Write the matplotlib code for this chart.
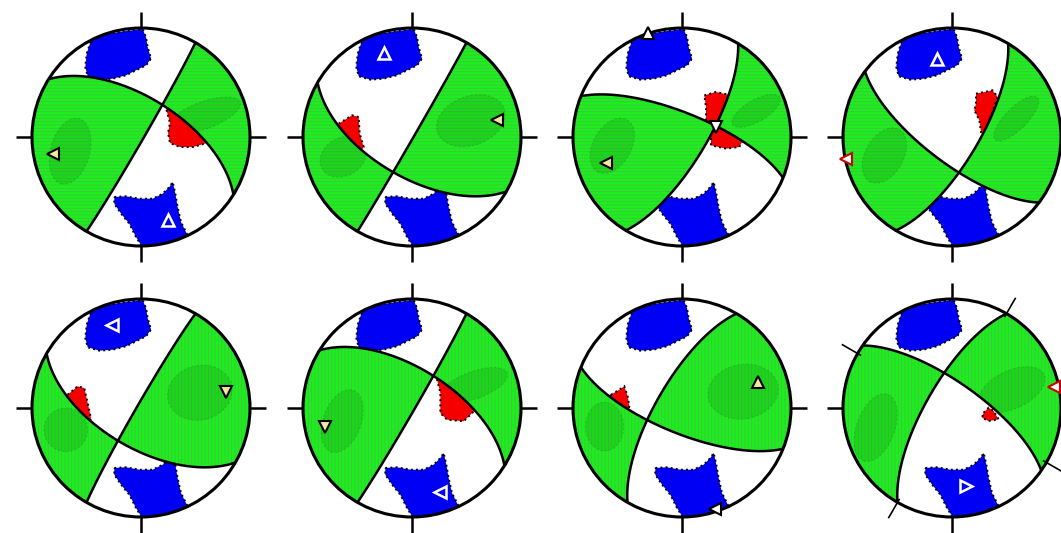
import numpy as np
import matplotlib
matplotlib.use("Agg")
import matplotlib.pyplot as plt
from matplotlib.patches import Circle, Polygon, Ellipse

# ---------------- data ----------------
# nodal plane A / B (strike, dip in degrees) for the 8 mechanisms
strike_a = [302, 120, 292, 127, 120, 302, 112, 305]
dip_a = [61, 60, 72, 71, 60, 61, 71, 71]
strike_b = [30, 30, 31, 31, 210, 30, 210, 210]
dip_b = [88, 89, 72, 71, 87, 88, 71, 71]

# P-axis confidence regions (blue), shared shape, unit-circle coords
blue_top = [(-0.443, 0.902), (-0.291, 0.948), (-0.138, 0.972), (0.015, 0.991),
            (0.046, 0.917), (0.061, 0.826), (0.092, 0.719), (0.046, 0.657),
            (-0.046, 0.612), (-0.138, 0.566), (-0.260, 0.535), (-0.382, 0.526),
            (-0.489, 0.557), (-0.511, 0.642), (-0.498, 0.765), (-0.468, 0.856)]
blue_bottom = [(-0.245, -0.550), (-0.138, -0.544), (-0.015, -0.566), (0.107, -0.566),
               (0.199, -0.520), (0.260, -0.459), (0.291, -0.413), (0.315, -0.520),
               (0.336, -0.642), (0.367, -0.780), (0.428, -0.902), (0.229, -0.979),
               (0.015, -1.015), (-0.046, -0.917), (-0.107, -0.795), (-0.183, -0.703),
               (-0.245, -0.612)]

# T-axis confidence regions (red), per mechanism
red_blobs = [
    [(0.22, 0.30), (0.62, 0.06), (0.606, -0.055), (0.477, -0.092), (0.358, -0.092),
     (0.266, -0.055), (0.248, 0.037), (0.266, 0.128)],
    [(-0.673, 0.122), (-0.550, 0.199), (-0.489, 0.183), (-0.480, 0.031),
     (-0.443, -0.092), (-0.48, -0.15), (-0.70, 0.05)],
    [(0.205, 0.382), (0.312, 0.413), (0.428, 0.388), (0.404, 0.183), (0.373, 0.092),
     (0.557, -0.031), (0.526, -0.092), (0.404, -0.107), (0.266, -0.076),
     (0.266, 0.046), (0.220, 0.153), (0.220, 0.275)],
    [(0.220, 0.398), (0.373, 0.428), (0.419, 0.367), (0.343, 0.153), (0.297, 0.031),
     (0.266, 0.046), (0.251, 0.153), (0.205, 0.245), (0.220, 0.306)],
    [(-0.673, 0.122), (-0.581, 0.199), (-0.520, 0.183), (-0.489, 0.046),
     (-0.459, -0.092), (-0.48, -0.15), (-0.70, 0.05)],
    [(0.22, 0.30), (0.62, 0.02), (0.474, -0.122), (0.321, -0.107),
     (0.260, -0.046), (0.260, 0.138)],
    [(-0.651, 0.122), (-0.575, 0.168), (-0.529, 0.199), (-0.498, 0.107),
     (-0.483, 0.015), (-0.50, -0.05), (-0.68, 0.08)],
    [(0.29, -0.043), (0.336, 0.003), (0.382, -0.028), (0.428, -0.104),
     (0.336, -0.119), (0.275, -0.089)],
]

# darker T-axis uncertainty patches inside the green quadrants: (x, y, w, h, angle)
dark_patches = [
    [(-0.65, -0.13, 0.36, 0.62, -15), (0.58, 0.20, 0.70, 0.25, 20)],
    [(-0.63, -0.18, 0.45, 0.35, 30), (0.54, 0.15, 0.65, 0.45, 20)],
    [(-0.64, -0.08, 0.35, 0.55, -30), (0.68, 0.24, 0.50, 0.20, 30)],
    [(-0.62, -0.17, 0.35, 0.55, -30), (0.59, 0.17, 0.55, 0.20, 45)],
    [(-0.69, -0.20, 0.40, 0.40, 0), (0.54, 0.14, 0.60, 0.50, 15)],
    [(-0.64, -0.12, 0.35, 0.60, -20), (0.57, 0.21, 0.65, 0.25, 20)],
    [(-0.71, -0.17, 0.35, 0.45, 0), (0.56, 0.15, 0.65, 0.50, 10)],
    [(-0.70, -0.18, 0.35, 0.65, -20), (0.55, 0.17, 0.65, 0.35, 25)],
]

# axis markers: (x, y, marker, style)
tri_marks = [
    [(-0.81, -0.16, "<", "yellow"), (0.25, -0.76, "^", "white")],
    [(-0.26, 0.77, "^", "white"), (0.78, 0.155, "<", "yellow")],
    [(-0.31, 0.95, "^", "wb"), (-0.70, -0.24, "<", "yellow"), (0.31, 0.09, "v", "wb")],
    [(-0.14, 0.72, "^", "white"), (-0.97, -0.20, "<", "red")],
    [(-0.27, 0.76, "<", "white"), (0.78, 0.145, "v", "yellow")],
    [(-0.80, -0.17, "v", "yellow"), (0.26, -0.77, "<", "white")],
    [(0.70, 0.24, "^", "yellow"), (0.30, -0.93, "<", "wb")],
    [(0.13, -0.72, ">", "white"), (0.94, 0.19, "<", "red")],
]

hatch_styles = ["-----"] * 4 + ["|||||"] * 4
rotated_ticks = [None] * 7 + [[30, 120, 210, 300]]

# ---------------- layout ----------------
W, H = 1061, 533
col_x = [141, 412, 682, 952]
row_y = [H - 137, H - 408]
R = 109

plt.rcParams["hatch.color"] = "#45c045"
plt.rcParams["hatch.linewidth"] = 0.6

fig = plt.figure(figsize=(W / 100, H / 100), dpi=100)
ax = fig.add_axes([0, 0, 1, 1])
ax.set_xlim(0, W)
ax.set_ylim(0, H)
ax.set_aspect("equal")
ax.axis("off")


def normal(s, d):
    s, d = np.radians(s), np.radians(d)
    return np.array([-np.sin(d) * np.sin(s), np.sin(d) * np.cos(s), -np.cos(d)])


def plane_curve(s, d):
    s, d = np.radians(s), np.radians(d)
    t = np.linspace(0, np.pi, 300)
    sv = np.array([np.cos(s), np.sin(s), 0.0])
    dv = np.array([-np.cos(d) * np.sin(s), np.cos(d) * np.cos(s), np.sin(d)])
    v = np.outer(np.cos(t), sv) + np.outer(np.sin(t), dv)
    inc = np.arccos(np.clip(v[:, 2], -1, 1))
    az = np.arctan2(v[:, 1], v[:, 0])
    r = np.sqrt(2) * np.sin(inc / 2)
    return r * np.sin(az), r * np.cos(az)


def dirvec(u, w):
    r = np.minimum(np.hypot(u, w), np.sqrt(2) - 1e-6)
    inc = 2 * np.arcsin(r / np.sqrt(2))
    az = np.arctan2(u, w)
    return np.stack([np.sin(inc) * np.cos(az), np.sin(inc) * np.sin(az), np.cos(inc)], -1)


g = np.linspace(-1.1, 1.1, 500)
U, Wg = np.meshgrid(g, g)
V = dirvec(U, Wg)
Vref = dirvec(np.array(-0.8), np.array(0.0))

style_kw = {
    "yellow": dict(mfc="#f4e7a6", mec="black", mew=1.5),
    "white": dict(mfc="none", mec="white", mew=1.8),
    "wb": dict(mfc="white", mec="black", mew=1.5),
    "red": dict(mfc="white", mec="#cc0000", mew=1.5),
}

for k in range(8):
    cx = col_x[k % 4]
    cy = row_y[k // 4]
    clip = Circle((cx, cy), R, transform=ax.transData)
    ax.add_patch(Circle((cx, cy), R, fc="white", ec="none", zorder=1))

    def to_xy(pts):
        return [(cx + R * x, cy + R * y) for x, y in pts]

    for shape, col in ((blue_top, "#0000f5"), (blue_bottom, "#0000f5"), (red_blobs[k], "#f50000")):
        p = Polygon(to_xy(shape), closed=True, fc=col, ec="black", lw=1.4, ls=":", zorder=2)
        ax.add_patch(p)
        p.set_clip_path(clip)

    n1 = normal(strike_a[k], dip_a[k])
    n2 = normal(strike_b[k], dip_b[k])
    f = (V @ n1) * (V @ n2)
    sgn = np.sign((Vref @ n1) * (Vref @ n2))
    f = f * sgn
    cs = ax.contourf(cx + R * U, cy + R * Wg, f, levels=[0, f.max() + 1],
                     colors=["#1cf01c"], hatches=[hatch_styles[k]], zorder=3)
    cs.set_clip_path(clip)
    gpath = cs.get_paths()[0]

    for (ex, ey, ew, eh, ea) in dark_patches[k]:
        e = Ellipse((cx + R * ex, cy + R * ey), R * ew, R * eh, angle=ea,
                    fc="#0b7a0b", alpha=0.2, ec="#0b5a0b", ls=(0, (2, 2)), lw=0.8, zorder=4)
        ax.add_patch(e)
        e.set_clip_path(gpath, ax.transData)

    for s, d in ((strike_a[k], dip_a[k]), (strike_b[k], dip_b[k])):
        x, y = plane_curve(s, d)
        ax.plot(cx + R * x, cy + R * y, color="black", lw=1.8, zorder=5, solid_capstyle="butt")

    ax.add_patch(Circle((cx, cy), R, fill=False, ec="black", lw=2.2, zorder=6))

    for az in (0, 90, 180, 270):
        a = np.radians(az)
        ax.plot([cx + R * np.sin(a), cx + 1.15 * R * np.sin(a)],
                [cy + R * np.cos(a), cy + 1.15 * R * np.cos(a)],
                color="black", lw=1.8, zorder=6, solid_capstyle="butt")
    if rotated_ticks[k]:
        for az in rotated_ticks[k]:
            a = np.radians(az)
            ax.plot([cx + 0.97 * R * np.sin(a), cx + 1.16 * R * np.sin(a)],
                    [cy + 0.97 * R * np.cos(a), cy + 1.16 * R * np.cos(a)],
                    color="black", lw=1.2, zorder=6)

    for (tx, ty, m, st) in tri_marks[k]:
        ax.plot(cx + R * tx, cy + R * ty, marker=m, ms=8.5, ls="none", zorder=8, **style_kw[st])

fig.savefig("out.png", dpi=100)
